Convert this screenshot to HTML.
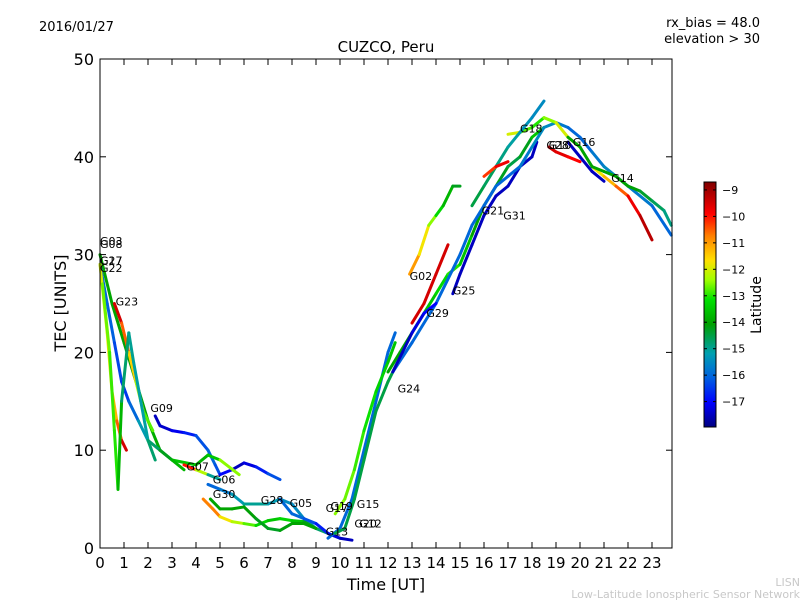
<!DOCTYPE html>
<html><head><meta charset="utf-8"><style>
body{margin:0;background:#fff;}
svg{display:block;font-family:"DejaVu Sans","Liberation Sans",sans-serif;}
</style></head><body>
<svg id="chart" width="800" height="600" viewBox="0 0 800 600">
<text x="39" y="31" font-size="13">2016/01/27</text>
<text x="760" y="27" font-size="13" text-anchor="end">rx_bias = 48.0</text>
<text x="760" y="43" font-size="13" text-anchor="end">elevation &gt; 30</text>
<text x="386" y="52" font-size="15" text-anchor="middle">CUZCO, Peru</text>
<text x="386" y="590" font-size="16" text-anchor="middle">Time [UT]</text>
<text transform="translate(66,303) rotate(-90)" font-size="16" text-anchor="middle">TEC [UNITS]</text>
<text x="800" y="586" font-size="11" fill="#c8c8c8" text-anchor="end">LISN</text>
<text x="800" y="598" font-size="11" fill="#c8c8c8" text-anchor="end">Low-Latitude Ionospheric Sensor Network</text>
<defs><linearGradient id="cbg" x1="0" y1="1" x2="0" y2="0">
<stop offset="0" stop-color="#000080"/><stop offset="0.1" stop-color="#0000ff"/><stop offset="0.2" stop-color="#0060e0"/><stop offset="0.3" stop-color="#00a0b0"/><stop offset="0.42" stop-color="#00a000"/><stop offset="0.52" stop-color="#00e000"/><stop offset="0.6" stop-color="#a0ff00"/><stop offset="0.68" stop-color="#ffe000"/><stop offset="0.78" stop-color="#ff8000"/><stop offset="0.87" stop-color="#ff0000"/><stop offset="1" stop-color="#800000"/>
</linearGradient></defs>
<g id="marks"></g>
<rect x="100" y="59" width="572" height="489" fill="none" stroke="#000" stroke-width="1"/>
<g id="axes"></g>
<rect x="704" y="182" width="12" height="245" fill="url(#cbg)" stroke="#000"/>
<g id="cbticks"></g>
<text transform="translate(761,305) rotate(-90)" font-size="14" text-anchor="middle">Latitude</text>
</svg>
<script>
const xTicks=[0,1,2,3,4,5,6,7,8,9,10,11,12,13,14,15,16,17,18,19,20,21,22,23];
const yTicks=[0,10,20,30,40,50];
const cbTicks=[-9,-10,-11,-12,-13,-14,-15,-16,-17];
const latMin=-17.96, latMax=-8.7;
// series: time (UT), TEC, latitude
const s1T=[2.3,2.5,3,3.5,4,4.5,4.8,5,5.5,6,6.5,7,7.5];
const s1V=[13.5,12.5,12,11.8,11.5,10,8.5,7.5,8,8.7,8.3,7.6,7];
const s1L=[-17.5,-17.5,-17.3,-17,-16.5,-16,-16,-16.5,-17.5,-17.5,-17,-16.5,-16];
const s2T=[0,0.5,1,1.5,2,2.5,3,4,4.5,5,5.8];
const s2V=[30,25,21,17,13,10,9,8.5,9.5,9,7.5];
const s2L=[-14,-14,-14,-14.2,-14,-13.8,-13.5,-13.5,-14,-13,-12];
const s3T=[0.6,0.9,1.2,1.5,1.8,2.2];
const s3V=[25,23,20,17,14,12];
const s3L=[-9,-10,-11,-12,-12.5,-13];
const s4T=[0,0.3,0.6,0.9,1.2,1.6,2,2.5,3,3.5];
const s4V=[29,25,21,17,15,13,11,10,9,8];
const s4L=[-16,-16,-16.2,-16.5,-16.5,-15.5,-15,-14.5,-14,-13.5];
const s5T=[0,0.3,0.5,0.7,0.9,1.1];
const s5V=[29,22,16,13,11,10];
const s5L=[-12,-12,-11.5,-11,-10,-9];
const s6T=[0.1,0.4,0.6,0.75,0.9,1.2,1.4,1.7,2,2.3];
const s6V=[27,20,12,6,15,22,19,15,11,9];
const s6L=[-12.5,-12.8,-13,-13,-14.5,-15,-15,-15.2,-15,-14.5];
const s7T=[3.5,4,4.5,5];
const s7V=[8.5,8,7.5,7];
const s7L=[-9.5,-10.5,-14,-16];
const s8T=[4.5,5,5.5,6,7,7.5,8,8.5,9];
const s8V=[6.5,6,5.5,4.5,4.5,5,4.5,3,2];
const s8L=[-16,-16,-15.5,-15,-15,-15.5,-15.5,-15.5,-15];
const s9T=[4.3,4.7,5,5.5,6,6.5,7,7.5,8,8.5,9,9.5,10];
const s9V=[5,4,3.2,2.7,2.5,2.3,2.8,3,2.8,2.7,2,1.5,1];
const s9L=[-11.5,-10,-11.5,-12,-12.5,-13,-13.5,-13.5,-13,-14,-14.5,-15,-15];
const s10T=[4.6,5,5.5,6,6.5,7,7.5,8,8.5,9];
const s10V=[5,4,4,4.2,3,2,1.8,2.5,2.5,2];
const s10L=[-14,-14,-14,-14,-14.2,-14.3,-14.3,-14,-14,-14];
const s11T=[7.5,8,8.5,9,9.5,10,10.5];
const s11V=[5,3.5,3,2.5,1.5,1,0.8];
const s11L=[-16,-16,-16,-16.5,-17,-17.5,-17.5];
const s12T=[9.5,10,10.5,11,11.5,12,12.3];
const s12V=[1,2,5,10,15,20,22];
const s12L=[-16,-16,-16,-16,-16,-16,-16];
const s13T=[9.8,10.2,10.6,11,11.5,12,12.4];
const s13V=[1.5,2,5,9,14,17,19];
const s13L=[-14.5,-14.5,-14.5,-14.5,-14.5,-14.5,-14.5];
const s14T=[9.8,10.2,10.6,11,11.5,12,12.3];
const s14V=[3.5,5,8,12,16,19,21];
const s14L=[-12.5,-12.5,-12.8,-13,-13.2,-13.5,-13.5];
const s15T=[12.9,13.3,13.7,14,14.3,14.7,15];
const s15V=[28,30,33,34,35,37,37];
const s15L=[-10.5,-11.5,-12,-13,-13.5,-14,-14.5];
const s16T=[14.7,15,15.5,16,16.5,17,17.5,18,18.2];
const s16V=[26,28,31,34,36,37,39,40,41.5];
const s16L=[-17.5,-17.5,-17.5,-17.5,-17.5,-17.5,-17.5,-17.5,-17.5];
const s17T=[12,12.5,13,13.5,14,14.5,15,15.5,16,16.5,17,17.5,18,18.5];
const s17V=[18,20,22,24,26,28,29,32,35,37,39,40,42,43];
const s17L=[-14,-14,-14,-13.5,-13.5,-13,-13,-14,-14,-14,-14.5,-14.5,-14,-13];
const s18T=[12.2,13,14,15,15.5,16,16.5,17,17.5,18,18.5,19,19.5,20,20.5,21,22,23,23.8];
const s18V=[18,21,25,30,33,35,37,38,39,41,43,43.5,43,42,40.5,39,37,35,32];
const s18L=[-16,-16,-16,-16,-16,-16,-16,-16,-16,-15.5,-15.5,-15.5,-16,-16,-16,-15.5,-15.5,-16,-16];
const s19T=[17,17.5,18,18.5,19,19.5,20];
const s19V=[42.3,42.5,43,44,43.5,42,41];
const s19L=[-11.5,-12.5,-13,-13,-12,-12,-11];
const s20T=[15.5,16,16.5,17,17.5,18,18.5];
const s20V=[35,37,39,41,42.5,44,45.7];
const s20L=[-14.5,-14.5,-14.8,-15,-15.2,-15.5,-15.5];
const s21T=[13,13.5,14,14.5];
const s21V=[23,25,28,31];
const s21L=[-9.5,-9.5,-9.5,-9.5];
const s22T=[16,16.5,17];
const s22V=[38,39,39.5];
const s22L=[-10.5,-10,-9.5];
const s23T=[20.5,21,21.5,22,22.5,23];
const s23V=[39,38,37,36,34,31.5];
const s23L=[-12,-11.5,-11,-10,-9.5,-9];
const s24T=[19.5,20,20.5,21,21.5,22,22.5,23,23.5,23.8];
const s24V=[42,41,39,38.5,38,37,36.5,35.5,34.5,33];
const s24L=[-14,-14,-14,-14,-14,-14,-14.2,-14.5,-14.8,-15];
const s25T=[18.7,19,19.5,20];
const s25V=[41,40.5,40,39.5];
const s25L=[-9.5,-9.5,-9.8,-10];
const s26T=[19.5,20,20.5,21];
const s26V=[41.5,40,38.5,37.5];
const s26L=[-17.5,-17.5,-17.5,-17.5];
const s27T=[12.2,12.6,13,13.5,14];
const s27V=[18,20,22,24,25];
const s27L=[-17.5,-17.5,-17.5,-17,-17];
const series=[[s1T,s1V,s1L],[s2T,s2V,s2L],[s3T,s3V,s3L],[s4T,s4V,s4L],[s5T,s5V,s5L],[s6T,s6V,s6L],[s7T,s7V,s7L],[s8T,s8V,s8L],[s9T,s9V,s9L],[s10T,s10V,s10L],[s11T,s11V,s11L],[s12T,s12V,s12L],[s13T,s13V,s13L],[s14T,s14V,s14L],[s15T,s15V,s15L],[s16T,s16V,s16L],[s17T,s17V,s17L],[s18T,s18V,s18L],[s19T,s19V,s19L],[s20T,s20V,s20L],[s21T,s21V,s21L],[s22T,s22V,s22L],[s23T,s23V,s23L],[s24T,s24V,s24L],[s25T,s25V,s25L],[s26T,s26V,s26L],[s27T,s27V,s27L]];
const prnNames=["G03","G08","G17","G27","G22","G23","G09","G07","G06","G30","G28","G05","G19","G17","G13","G15","G20","G12","G24","G29","G25","G02","G21","G31","G18","G28","G10","G16","G14"];
const prnT=[0,0,0,0,0,0.65,2.1,3.6,4.7,4.7,6.7,7.9,9.6,9.4,9.4,10.7,10.6,10.8,12.4,13.6,14.7,12.9,15.9,16.8,17.5,18.6,18.7,19.7,21.3];
const prnV=[31,30.7,29,29,28.2,24.8,13.9,7.9,6.6,5.1,4.5,4.2,3.9,3.7,1.3,4.1,2.1,2.1,15.9,23.6,25.9,27.4,34.1,33.6,42.5,40.8,40.8,41.1,37.4];
const NS='http://www.w3.org/2000/svg';
const X=t=>100+t*24, Y=v=>548-v*9.78;
const cbY=l=>427-(l-latMin)/(latMax-latMin)*245;
const stops=[[0,[0,0,128]],[0.1,[0,0,255]],[0.2,[0,96,224]],[0.3,[0,160,176]],[0.42,[0,160,0]],[0.52,[0,224,0]],[0.6,[160,255,0]],[0.68,[255,224,0]],[0.78,[255,128,0]],[0.87,[255,0,0]],[1,[128,0,0]]];
function col(l){let f=Math.max(0,Math.min(1,(l-latMin)/(latMax-latMin)));for(let i=1;i<stops.length;i++){if(f<=stops[i][0]){const a=stops[i-1],b=stops[i],u=(f-a[0])/(b[0]-a[0]);return 'rgb('+a[1].map((c,k)=>Math.round(c+(b[1][k]-c)*u)).join(',')+')';}}return 'rgb(128,0,0)';}
const marks=document.getElementById('marks');
series.forEach((s,si)=>{const g=document.createElementNS(NS,'g');


for(let i=0;i<s[0].length-1;i++){const ln=document.createElementNS(NS,'line');
ln.setAttribute('x1',X(s[0][i]));ln.setAttribute('y1',Y(s[1][i]));ln.setAttribute('x2',X(s[0][i+1]));ln.setAttribute('y2',Y(s[1][i+1]));
ln.setAttribute('stroke',col((s[2][i]+s[2][i+1])/2));ln.setAttribute('stroke-width','3');ln.setAttribute('stroke-linecap','round');


g.appendChild(ln);}
marks.appendChild(g);});
prnNames.forEach((n,i)=>{const t=document.createElementNS(NS,'text');t.setAttribute('x',X(prnT[i]));t.setAttribute('y',Y(prnV[i]));t.setAttribute('font-size','11');t.textContent=n;


marks.appendChild(t);});
const axes=document.getElementById('axes');
function add(tag,attrs,parent){const e=document.createElementNS(NS,tag);for(const k in attrs)e.setAttribute(k,attrs[k]);parent.appendChild(e);return e;}
xTicks.forEach(t=>{const x=X(t);
const a=add('line',{x1:x,y1:548,x2:x,y2:542,stroke:'#000'},axes);


const b=add('line',{x1:x,y1:59,x2:x,y2:65,stroke:'#000'},axes);


const tx=add('text',{x:x,y:568,'font-size':'15','text-anchor':'middle'},axes);tx.textContent=t;

});
yTicks.forEach(v=>{const y=Y(v);
const a=add('line',{x1:100,y1:y,x2:106,y2:y,stroke:'#000'},axes);


const b=add('line',{x1:672,y1:y,x2:666,y2:y,stroke:'#000'},axes);


const tx=add('text',{x:94,y:y+6,'font-size':'16','text-anchor':'end'},axes);tx.textContent=v;

});
const cbt=document.getElementById('cbticks');
cbTicks.forEach(l=>{const y=cbY(l);
const a=add('line',{x1:704,y1:y,x2:707,y2:y,stroke:'#000'},cbt);


const b=add('line',{x1:716,y1:y,x2:713,y2:y,stroke:'#000'},cbt);


const tx=add('text',{x:722,y:y+4,'font-size':'11'},cbt);tx.textContent='\u2212'+Math.abs(l);

});
</script>
</body></html>
